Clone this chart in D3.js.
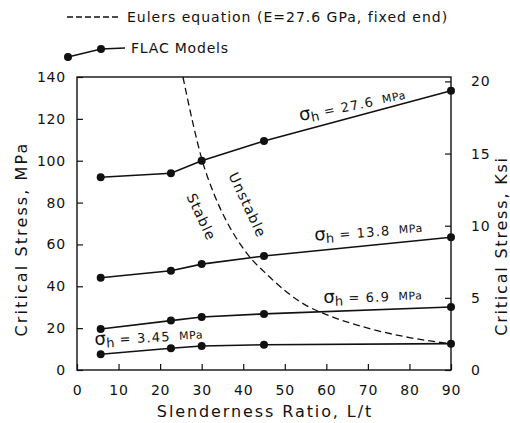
<!DOCTYPE html>
<html>
<head>
<meta charset="utf-8">
<script src="https://cdn.jsdelivr.net/npm/d3@7"></script>
<style>
  html, body { margin: 0; padding: 0; background: #fff; }
  svg { display: block; }
  text { font-family: "DejaVu Sans", sans-serif; fill: #111; }
</style>
</head>
<body>
<svg id="chart" width="510" height="423"></svg>
<script>
// ---- data ----
const slenderness = [5.7, 22.6, 30, 45, 90];            // L/t of the FLAC models
const flac_27_6 = [92.1, 94.0, 100.0, 109.4, 133.4];    // MPa, sigma_h = 27.6 MPa
const flac_13_8 = [44.1, 47.4, 50.6, 54.5, 63.4];       // sigma_h = 13.8 MPa
const flac_6_9  = [19.6, 23.6, 25.3, 26.8, 30.1];       // sigma_h = 6.9 MPa
const flac_3_45 = [7.5, 10.4, 11.5, 12.1, 12.6];        // sigma_h = 3.45 MPa
const seriesNames = ["27.6", "13.8", "6.9", "3.45"];

// Euler curve
const eulerX = [25.5, 28, 30, 33, 36, 39, 42, 45, 50, 55, 60, 70, 80, 90];
const eulerY = [140, 117, 101, 84, 71, 61, 53, 47, 38, 31, 26.5, 20, 15.5, 12.5];

const xTicks = [0, 10, 20, 30, 40, 50, 60, 70, 80, 90];
const yTicksMPa = [0, 20, 40, 60, 80, 100, 120, 140];
const yTicksKsi = [0, 5, 10, 15, 20];
const MPA_PER_KSI = 6.895;

// label anchors in data units: [x, y(MPa), rotation]
const labelX = [53.7, 57.2, 59.3, 4.3];
const labelY = [119.0, 61.7, 32.0, 11.9];
const labelRot = [-11.4, -4.3, -1.5, -3];

// ---- drawing ----
const svg = d3.select("#chart");
const L = 77, R = 451, T = 77, B = 370;
const x = d3.scaleLinear().domain([0, 90]).range([L, R]);
const y = d3.scaleLinear().domain([0, 140]).range([B, T]);
const yK = d3.scaleLinear().domain([0, 140 / MPA_PER_KSI]).range([B, T]);

// frame
svg.append("rect").attr("x", L).attr("y", T).attr("width", R - L).attr("height", B - T)
  .attr("fill", "none").attr("stroke", "#111").attr("stroke-width", 1.4);

const tickFont = 14;
const gl = svg.append("g").attr("transform", `translate(${L},0)`)
  .call(d3.axisLeft(y).tickValues(yTicksMPa).tickSizeInner(-6).tickSizeOuter(0).tickPadding(11));
const gr = svg.append("g").attr("transform", `translate(${R},0)`)
  .call(d3.axisRight(yK).tickValues(yTicksKsi).tickSizeInner(-6).tickSizeOuter(0).tickPadding(20));
const gb = svg.append("g").attr("transform", `translate(0,${B})`)
  .call(d3.axisBottom(x).tickValues(xTicks).tickSizeInner(-6).tickSizeOuter(0).tickPadding(15));

[gl, gr, gb].forEach(g => {
  g.select(".domain").remove();
  g.selectAll(".tick line").attr("stroke", "#111").attr("stroke-width", 1.2);
  g.selectAll(".tick text").attr("font-size", tickFont).attr("letter-spacing", 0.8)
    .attr("font-family", "DejaVu Sans, sans-serif").attr("fill", "#111");
});

// axis titles
svg.append("text").attr("x", 265).attr("y", 417).attr("text-anchor", "middle")
  .attr("font-size", 16).attr("letter-spacing", 1.9).text("Slenderness Ratio, L/t");
svg.append("text").attr("transform", "translate(27,239) rotate(-90)").attr("text-anchor", "middle")
  .attr("font-size", 16).attr("letter-spacing", 2.1).text("Critical Stress, MPa");
svg.append("text").attr("transform", "translate(507,246) rotate(-90)").attr("text-anchor", "middle")
  .attr("font-size", 16).attr("letter-spacing", 1.8).text("Critical Stress, Ksi");

// Euler dashed curve
const eulerPts = eulerX.map((d, i) => [d, eulerY[i]]);
svg.append("path").datum(eulerPts)
  .attr("d", d3.line().x(d => x(d[0])).y(d => y(d[1])).curve(d3.curveMonotoneX))
  .attr("fill", "none").attr("stroke", "#111").attr("stroke-width", 1.3)
  .attr("stroke-dasharray", "7,4");

// FLAC series
const allSeries = [flac_27_6, flac_13_8, flac_6_9, flac_3_45];
const line = d3.line().x((d, i) => x(slenderness[i])).y(d => y(d));
allSeries.forEach(vals => {
  svg.append("path").datum(vals).attr("d", line)
    .attr("fill", "none").attr("stroke", "#111").attr("stroke-width", 1.6);
  svg.selectAll(null).data(vals).enter().append("circle")
    .attr("cx", (d, i) => x(slenderness[i])).attr("cy", d => y(d)).attr("r", 4)
    .attr("fill", "#111");
});

// series labels
seriesNames.forEach((name, i) => {
  const t = svg.append("text")
    .attr("transform", `translate(${x(labelX[i])},${y(labelY[i])}) rotate(${labelRot[i]})`);
  t.append("tspan").attr("font-size", 18).text("σ");
  t.append("tspan").attr("font-size", 13).attr("dy", 3).text("h");
  t.append("tspan").attr("font-size", 13).attr("dy", -3).attr("letter-spacing", 1.2).text(" = " + name + " ");
  t.append("tspan").attr("font-size", 11).attr("dx", 3).attr("dy", -1).attr("letter-spacing", 0.6).text("MPa");
});

// Stable / Unstable
svg.append("text").attr("transform", "translate(197,219) rotate(65)").attr("text-anchor", "middle")
  .attr("font-size", 14).attr("letter-spacing", 1).text("Stable");
svg.append("text").attr("transform", "translate(243,207) rotate(65)").attr("text-anchor", "middle")
  .attr("font-size", 14).attr("letter-spacing", 1).text("Unstable");

// legend
svg.append("line").attr("x1", 67).attr("y1", 17).attr("x2", 118).attr("y2", 17)
  .attr("stroke", "#111").attr("stroke-width", 1.3).attr("stroke-dasharray", "6,3");
svg.append("text").attr("x", 127).attr("y", 22).attr("font-size", 14)
  .attr("letter-spacing", 1.0).text("Eulers equation (E=27.6 GPa, fixed end)");
svg.append("path").attr("d", "M68,57 L101,49 L125,48")
  .attr("fill", "none").attr("stroke", "#111").attr("stroke-width", 1.6);
svg.append("circle").attr("cx", 68).attr("cy", 57).attr("r", 4).attr("fill", "#111");
svg.append("circle").attr("cx", 101).attr("cy", 49).attr("r", 4).attr("fill", "#111");
svg.append("text").attr("x", 131).attr("y", 53).attr("font-size", 14)
  .attr("letter-spacing", 0.8).text("FLAC Models");
</script>
</body>
</html>
